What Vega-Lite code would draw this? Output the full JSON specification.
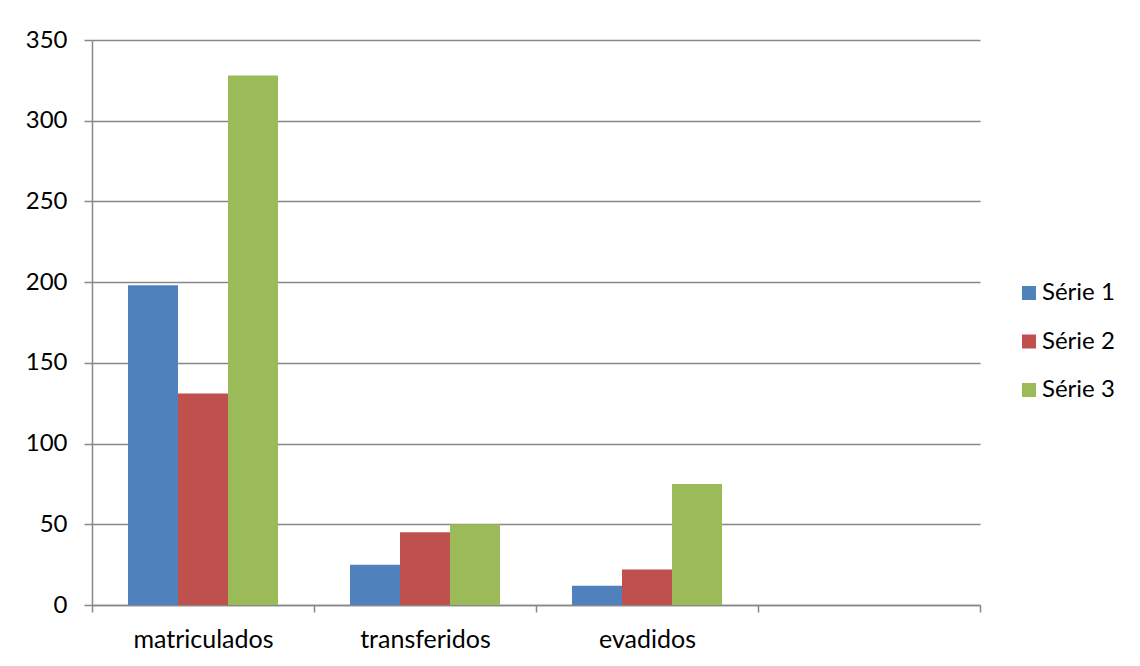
{
  "$schema": "https://vega.github.io/schema/vega-lite/v6.json",
  "width": 888,
  "height": 565,
  "autosize": {"type": "none"},
  "padding": {"left": 92, "top": 40, "right": 160, "bottom": 61},
  "background": "white",
  "config": {
    "view": {"stroke": null},
    "font": "Lato",
    "axis": {"labelFont": "Lato", "labelColor": "#000000"},
    "legend": {"labelFont": "Lato"}
  },
  "data": {
    "values": [
      {"categoria": "matriculados", "serie": "Série 1", "valor": 198},
      {"categoria": "matriculados", "serie": "Série 2", "valor": 131},
      {"categoria": "matriculados", "serie": "Série 3", "valor": 328},
      {"categoria": "transferidos", "serie": "Série 1", "valor": 25},
      {"categoria": "transferidos", "serie": "Série 2", "valor": 45},
      {"categoria": "transferidos", "serie": "Série 3", "valor": 50},
      {"categoria": "evadidos", "serie": "Série 1", "valor": 12},
      {"categoria": "evadidos", "serie": "Série 2", "valor": 22},
      {"categoria": "evadidos", "serie": "Série 3", "valor": 75}
    ]
  },
  "mark": {"type": "bar"},
  "encoding": {
    "x": {
      "field": "categoria",
      "type": "nominal",
      "scale": {"domain": ["matriculados", "transferidos", "evadidos", " "], "paddingInner": 0, "paddingOuter": 0},
      "axis": {
        "title": null,
        "labelAngle": 0,
        "labelFontSize": 25,
        "labelPadding": 15,
        "tickBand": "extent",
        "tickExtra": true,
        "tickSize": 7,
        "tickColor": "#878787",
        "tickWidth": 1.5,
        "domainColor": "#878787",
        "domainWidth": 1.5,
        "grid": false
      }
    },
    "xOffset": {
      "field": "serie",
      "type": "nominal",
      "scale": {"paddingInner": 0, "paddingOuter": 0.72}
    },
    "y": {
      "field": "valor",
      "type": "quantitative",
      "scale": {"domain": [0, 350], "nice": false},
      "axis": {
        "title": null,
        "values": [0, 50, 100, 150, 200, 250, 300, 350],
        "labelFontSize": 24,
        "labelPadding": 17,
        "tickSize": 8,
        "tickColor": "#878787",
        "tickWidth": 1.5,
        "domainColor": "#878787",
        "domainWidth": 1.5,
        "grid": true,
        "gridColor": "#878787",
        "gridWidth": 1.5
      }
    },
    "color": {
      "field": "serie",
      "type": "nominal",
      "scale": {"domain": ["Série 1", "Série 2", "Série 3"], "range": ["#4F81BD", "#C0504D", "#9BBB59"]},
      "legend": {
        "title": null,
        "orient": "none",
        "legendX": 925,
        "legendY": 241,
        "symbolType": "square",
        "symbolSize": 196,
        "symbolStrokeWidth": 0,
        "labelFontSize": 24,
        "labelOffset": 1,
        "rowPadding": 24.5,
        "padding": 0
      }
    }
  }
}
